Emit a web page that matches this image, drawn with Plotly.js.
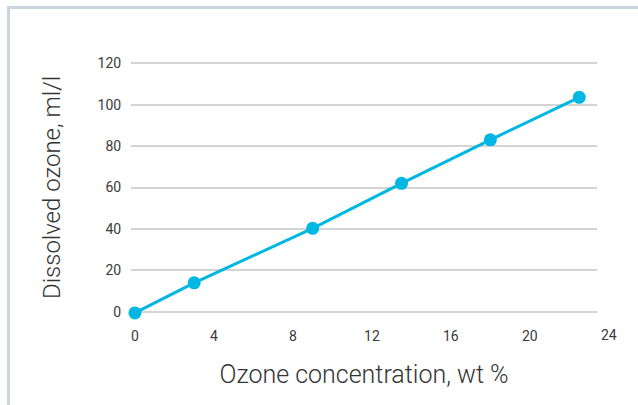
<!DOCTYPE html>
<html>
<head>
<meta charset="utf-8">
<script src="https://cdn.plot.ly/plotly-3.0.1.min.js"></script>
<style>
  html, body { margin: 0; padding: 0; background: #fff; }
  #wrap { position: relative; width: 638px; height: 405px; }
  #chart { width: 638px; height: 405px; }
  #frame { position: absolute; left: 7px; top: 6px; right: 0; bottom: 0;
           border-top: 3px solid #c9d6e0; border-left: 3px solid #c9d6e0; pointer-events: none; }
</style>
</head>
<body>
<div id="wrap">
  <div id="chart"></div>
  <div id="frame"></div>
</div>
<script>
const ozoneWt = [0, 3, 9, 13.5, 18, 22.5];
const dissolved = [-0.5, 14, 40.3, 62, 83, 103.5];
const xTicks = [0, 4, 8, 12, 16, 20];
const lastXTick = 24;
const yTicks = [0, 20, 40, 60, 80, 100, 120];
const xTitle = 'Ozone concentration, wt %';
const yTitle = 'Dissolved ozone, ml/l';

const blue = '#00b7e3';
const tickFont = { family: 'Roboto, Arial, sans-serif', size: 14, color: '#3a3a3a' };
const titleFont = { family: 'Roboto, Arial, sans-serif', size: 25, color: '#333333', weight: 300 };
const yTitleFont = { family: 'Roboto, Arial, sans-serif', size: 24, color: '#333333', weight: 300 };

const xRange = [-0.2, 23.4];

const trace = {
  x: ozoneWt, y: dissolved, type: 'scatter', mode: 'lines+markers',
  line: { color: blue, width: 3 },
  marker: { color: blue, size: 13 },
  cliponaxis: false, hoverinfo: 'skip'
};

const layout = {
  width: 638, height: 405,
  margin: { l: 131, r: 41, t: 58.5, b: 88.5 },
  paper_bgcolor: '#ffffff', plot_bgcolor: '#ffffff',
  showlegend: false,
  xaxis: {
    range: xRange,
    tickvals: xTicks, ticktext: xTicks.map(String),
    showgrid: false, zeroline: false, showline: false,
    ticks: 'outside', ticklen: 7, tickcolor: 'rgba(0,0,0,0)',
    tickfont: tickFont,
    title: { text: xTitle, font: titleFont, standoff: 22 }
  },
  yaxis: {
    range: [-2, 122],
    tickvals: yTicks, ticktext: yTicks.map(String),
    showgrid: true, gridcolor: '#d4d4d4', gridwidth: 2,
    zeroline: false, showline: false,
    ticks: 'outside', ticklen: 6, tickcolor: 'rgba(0,0,0,0)',
    tickfont: tickFont,
    title: { text: yTitle, font: yTitleFont, standoff: 30 }
  },
  annotations: [{
    x: (lastXTick - xRange[0]) / (xRange[1] - xRange[0]), xref: 'paper',
    y: 0, yref: 'paper',
    yanchor: 'top', xanchor: 'center', yshift: -9,
    text: String(lastXTick), showarrow: false, font: tickFont
  }]
};

Plotly.newPlot('chart', [trace], layout, { displayModeBar: false, staticPlot: true });
</script>
</body>
</html>
